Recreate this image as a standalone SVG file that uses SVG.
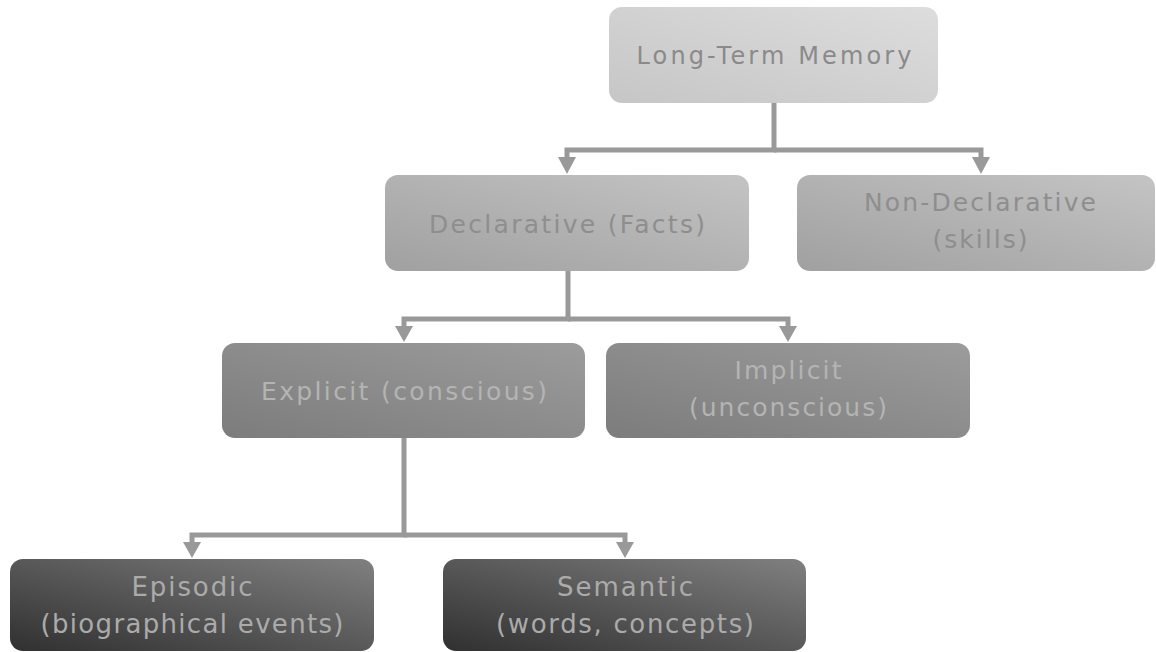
<svg xmlns="http://www.w3.org/2000/svg" width="1156" height="652" viewBox="0 0 1156 652">
  <defs>
    <!-- node fills: lighter at top-right, darker at bottom-left -->
    <linearGradient id="g1" x1="0" y1="1" x2="1" y2="0">
      <stop offset="0" stop-color="#c6c6c6"/>
      <stop offset="1" stop-color="#dddddd"/>
    </linearGradient>
    <linearGradient id="g2" x1="0" y1="1" x2="1" y2="0">
      <stop offset="0" stop-color="#a0a0a0"/>
      <stop offset="1" stop-color="#c4c4c4"/>
    </linearGradient>
    <linearGradient id="g3" x1="0" y1="1" x2="1" y2="0">
      <stop offset="0" stop-color="#7c7c7c"/>
      <stop offset="1" stop-color="#9c9c9c"/>
    </linearGradient>
    <linearGradient id="g4" x1="0" y1="1" x2="1" y2="0">
      <stop offset="0" stop-color="#303030"/>
      <stop offset="1" stop-color="#808080"/>
    </linearGradient>
  </defs>
  <style>
    text { font-family: "DejaVu Sans", Verdana, sans-serif; text-anchor: middle; }
    .t1 { fill: #8a8a8a; font-size: 24px; }
    .t2 { fill: #8e8e8e; font-size: 25px; }
    .t3 { fill: #b4b4b4; font-size: 25px; }
    .t4 { fill: #ababab; font-size: 26px; }
    .conn { fill: none; stroke: #999999; stroke-width: 5; stroke-linejoin: miter; }
    .head { fill: #999999; }
  </style>

  <g id="connectors">
    <path class="conn" d="M774,103 V150 H567 V160"/>
    <path class="conn" d="M774,150 H981 V160"/>
    <polygon class="head" points="558,157 576,157 567,174"/>
    <polygon class="head" points="972,157 990,157 981,174"/>

    <path class="conn" d="M568,271 V319 H404 V328"/>
    <path class="conn" d="M568,319 H788 V328"/>
    <polygon class="head" points="395,326 413,326 404,342"/>
    <polygon class="head" points="779,326 797,326 788,342"/>

    <path class="conn" d="M404,438 V535 H192 V545"/>
    <path class="conn" d="M404,535 H625 V545"/>
    <polygon class="head" points="183,542 201,542 192,558"/>
    <polygon class="head" points="616,542 634,542 625,558"/>
  </g>

  <g id="long-term-memory">
    <rect x="609" y="7" width="329" height="96" rx="13" fill="url(#g1)"/>
    <text class="t1" x="774" y="64" textLength="275" lengthAdjust="spacing">Long-Term Memory</text>
  </g>

  <g id="declarative">
    <rect x="385" y="175" width="364" height="96" rx="13" fill="url(#g2)"/>
    <text class="t2" x="567" y="233" textLength="276" lengthAdjust="spacing">Declarative (Facts)</text>
  </g>

  <g id="non-declarative">
    <rect x="797" y="175" width="358" height="96" rx="13" fill="url(#g2)"/>
    <text class="t2" x="980" y="211" textLength="232" lengthAdjust="spacing">Non-Declarative</text>
    <text class="t2" x="980" y="248" textLength="95" lengthAdjust="spacing">(skills)</text>
  </g>

  <g id="explicit">
    <rect x="222" y="343" width="363" height="95" rx="13" fill="url(#g3)"/>
    <text class="t3" x="404" y="400" textLength="286" lengthAdjust="spacing">Explicit (conscious)</text>
  </g>

  <g id="implicit">
    <rect x="606" y="343" width="364" height="95" rx="13" fill="url(#g3)"/>
    <text class="t3" x="788" y="379" textLength="107" lengthAdjust="spacing">Implicit</text>
    <text class="t3" x="788" y="416" textLength="198" lengthAdjust="spacing">(unconscious)</text>
  </g>

  <g id="episodic">
    <rect x="10" y="559" width="364" height="92" rx="13" fill="url(#g4)"/>
    <text class="t4" x="192" y="596" textLength="121" lengthAdjust="spacing">Episodic</text>
    <text class="t4" x="192" y="633" textLength="303" lengthAdjust="spacing">(biographical events)</text>
  </g>

  <g id="semantic">
    <rect x="443" y="559" width="363" height="92" rx="13" fill="url(#g4)"/>
    <text class="t4" x="625" y="596" textLength="136" lengthAdjust="spacing">Semantic</text>
    <text class="t4" x="625" y="633" textLength="258" lengthAdjust="spacing">(words, concepts)</text>
  </g>
</svg>
